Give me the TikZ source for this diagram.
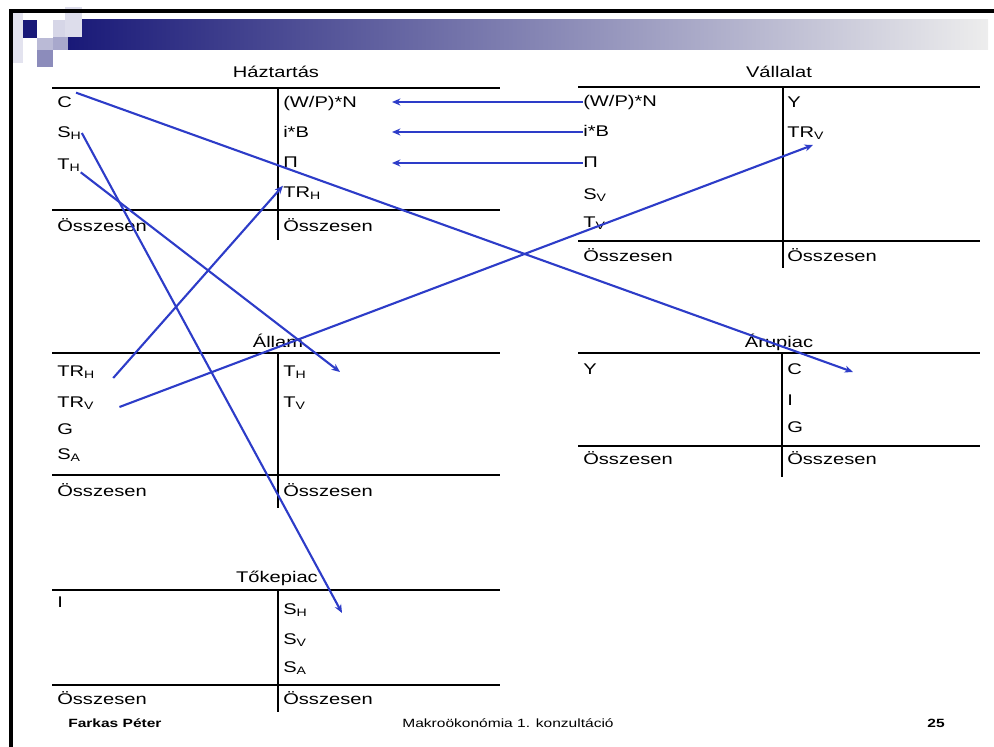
\documentclass[tikz,border=0pt]{standalone}
\usepackage{fontspec}
\setmainfont{Liberation Sans}[FakeStretch=1.3]
\usetikzlibrary{arrows.meta,calc}
\definecolor{flowblue}{RGB}{45,60,200}
\definecolor{navy}{RGB}{25,25,120}

\begin{document}
\begin{tikzpicture}[x=0.025cm, y=-0.025cm, font=\fontsize{11}{13}\selectfont]
\path [use as bounding box] (0,0) rectangle (994,747);
\tikzstyle{cell} = [anchor=west, inner sep=0pt, text height=8pt, text depth=2pt]
\tikzstyle{title} = [inner sep=0pt, text height=8pt, text depth=2pt]
\tikzstyle{rule} = [line width=2pt]
\tikzstyle{split} = [line width=1.4pt]
\tikzstyle{flow} = [flowblue, line width=1.5pt, -{Stealth[length=6pt,width=5pt]}]
% header bar
\shade[left color=navy, middle color=navy!45!black!25, right color=black!7] (68,20) rectangle (988,50);
\fill[navy!12] (12,12) rectangle (23,63);
\fill[navy] (23,20) rectangle (37,38);
\fill[navy!30] (37,38) rectangle (53,50);
\fill[navy!50] (37,50) rectangle (53,67);
\fill[navy!18] (53,20) rectangle (68,37);
\fill[navy!38] (53,37) rectangle (68,50);
\fill[navy!15] (65,7) rectangle (82,37);
\draw[line width=2.2pt] (11,747) -- (11,11) -- (994,11);

% Haztartas
\node[title] (hzTitle) at (276,73) {Háztartás};
\draw[rule] (52,88) -- (500,88);
\draw[rule] (52,210) -- (500,210);
\draw[split] (278,88) -- (278,240);
\node[cell] (hzC) at (57,103) {C};
\node[cell] (hzSH) at (57,133) {S\textsubscript{H}};
\node[cell] (hzTH) at (57,165) {T\textsubscript{H}};
\node[cell] (hzWPN) at (283,103) {(W/P)*N};
\node[cell] (hziB) at (283,133) {i*B};
\node[cell] (hzPi) at (283,163) {Π};
\node[cell] (hzTRH) at (283,193) {TR\textsubscript{H}};
\node[cell] (hzOsszL) at (57,227) {Összesen};
\node[cell] (hzOsszR) at (283,227) {Összesen};

% Vallalat
\node[title] (vlTitle) at (779,73) {Vállalat};
\draw[rule] (578,87) -- (980,87);
\draw[rule] (578,241) -- (980,241);
\draw[split] (783,87) -- (783,268);
\node[cell] (vlWPN) at (583,102) {(W/P)*N};
\node[cell] (vliB) at (583,132) {i*B};
\node[cell] (vlPi) at (583,163) {Π};
\node[cell] (vlSV) at (583,195) {S\textsubscript{V}};
\node[cell] (vlTV) at (583,223) {T\textsubscript{V}};
\node[cell] (vlY) at (787,103) {Y};
\node[cell] (vlTRV) at (787,133) {TR\textsubscript{V}};
\node[cell] (vlOsszL) at (583,257) {Összesen};
\node[cell] (vlOsszR) at (787,257) {Összesen};

% Allam
\node[title] (alTitle) at (278,343) {Állam};
\draw[rule] (52,353) -- (500,353);
\draw[rule] (52,475) -- (500,475);
\draw[split] (278,353) -- (278,508);
\node[cell] (alTRH) at (57,372) {TR\textsubscript{H}};
\node[cell] (alTRV) at (57,403) {TR\textsubscript{V}};
\node[cell] (alG) at (57,430) {G};
\node[cell] (alSA) at (57,455) {S\textsubscript{A}};
\node[cell] (alTH) at (283,372) {T\textsubscript{H}};
\node[cell] (alTV) at (283,403) {T\textsubscript{V}};
\node[cell] (alOsszL) at (57,492) {Összesen};
\node[cell] (alOsszR) at (283,492) {Összesen};

% Arupiac
\node[title] (arTitle) at (779,343) {Árupiac};
\draw[rule] (578,353) -- (980,353);
\draw[rule] (578,446) -- (980,446);
\draw[split] (782,353) -- (782,477);
\node[cell] (arY) at (583,370) {Y};
\node[cell] (arC) at (787,370) {C};
\node[cell] (arI) at (787,401) {I};
\node[cell] (arG) at (787,428) {G};
\node[cell] (arOsszL) at (583,460) {Összesen};
\node[cell] (arOsszR) at (787,460) {Összesen};

% Tokepiac
\node[title] (tkTitle) at (277,578) {Tőkepiac};
\draw[rule] (52,590) -- (500,590);
\draw[rule] (52,685) -- (500,685);
\draw[split] (278,590) -- (278,712);
\node[cell] (tkI) at (57,603) {I};
\node[cell] (tkSH) at (283,610) {S\textsubscript{H}};
\node[cell] (tkSV) at (283,640) {S\textsubscript{V}};
\node[cell] (tkSA) at (283,668) {S\textsubscript{A}};
\node[cell] (tkOsszL) at (57,700) {Összesen};
\node[cell] (tkOsszR) at (283,700) {Összesen};

% footer
\node[cell, font=\fontsize{8.5}{10}\selectfont\bfseries] (ftName) at (68,723) {Farkas Péter};
\node[title, font=\fontsize{8.5}{10}\selectfont] (ftCourse) at (508,723) {Makroökonómia 1. konzultáció};
\node[title, font=\fontsize{8.5}{10}\selectfont\bfseries] (ftPage) at (936,723) {25};

% flows
\coordinate (inX) at (392,0);
\coordinate (tipC) at (853,372);
\coordinate (tipSH) at (342,613);
\coordinate (tipTH) at (340,372);
\coordinate (tipTRV) at (813,145);
\foreach \n in {WPN,iB,Pi}
	\draw[flow] (vl\n.west) -- (inX |- vl\n.west);
\draw[flow] ($(hzC.north east)+(4,-3)$) -- (tipC);
\draw[flow] (hzSH.east) -- (tipSH);
\draw[flow] (hzTH.south east) -- (tipTH);
\draw[flow] ($(alTRH.east)+(18,6)$) -- (hzTRH.north west);
\draw[flow] ($(alTRV.east)+(25,4)$) -- (tipTRV);
\end{tikzpicture}
\end{document}
